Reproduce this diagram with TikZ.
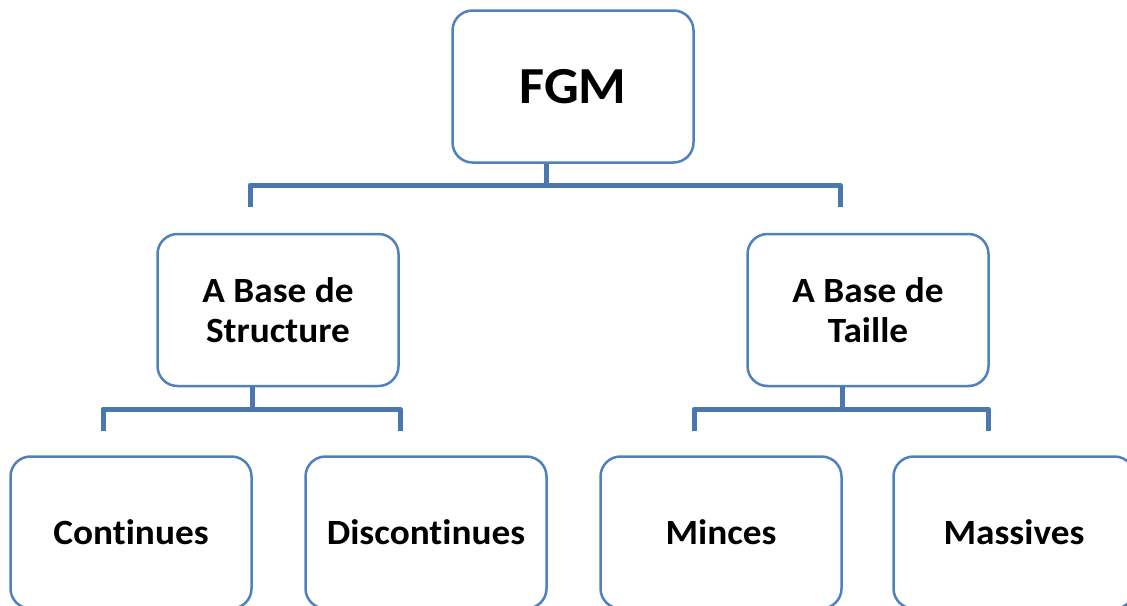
\documentclass[tikz,border=0pt]{standalone}
\usepackage{fontspec}
\setmainfont{Carlito}[Ligatures=NoCommon,FakeStretch=1.05]
\definecolor{boxblue}{HTML}{4F81BD}
\definecolor{connblue}{HTML}{4A78AE}
\begin{document}
\begin{tikzpicture}[x=1pt,y=-1pt,
  box/.style={draw=boxblue,line width=2.5pt,fill=white,rounded corners=20pt,
    minimum width=241pt,minimum height=152pt,align=center,
    font=\bfseries\fontsize{35.5}{39.5}\selectfont,inner sep=0pt},
  conn/.style={draw=connblue,line width=5pt,line join=round}]
\useasboundingbox (0,0) rectangle (1127,605);
\node[box,font=\bfseries\fontsize{52}{60}\selectfont] (fgm) at (573,86.5) {FGM};
\node[box] (struct) at (278,310) {A Base de\\Structure};
\node[box] (taille) at (868,310) {A Base de\\Taille};
\node[box] (cont) at (131,532.5) {Continues};
\node[box] (disc) at (426,532.5) {Discontinues};
\node[box] (minc) at (721,532.5) {Minces};
\node[box] (mass) at (1014,532.5) {Massives};
% level 1 connectors
\coordinate (j1) at (546,185);
\coordinate (d1l) at (250,207);
\coordinate (d1r) at (840,207);
\draw[conn] (fgm.south -| j1) -- (j1);
\draw[conn] (d1l) |- (j1) -| (d1r);
% level 2 left
\coordinate (j2) at (252,409);
\coordinate (d2l) at (103,431);
\coordinate (d2r) at (400,431);
\draw[conn] (struct.south -| j2) -- (j2);
\draw[conn] (d2l) |- (j2) -| (d2r);
% level 2 right
\coordinate (j3) at (842,409);
\coordinate (d3l) at (694,431);
\coordinate (d3r) at (988,431);
\draw[conn] (taille.south -| j3) -- (j3);
\draw[conn] (d3l) |- (j3) -| (d3r);
\end{tikzpicture}
\end{document}
